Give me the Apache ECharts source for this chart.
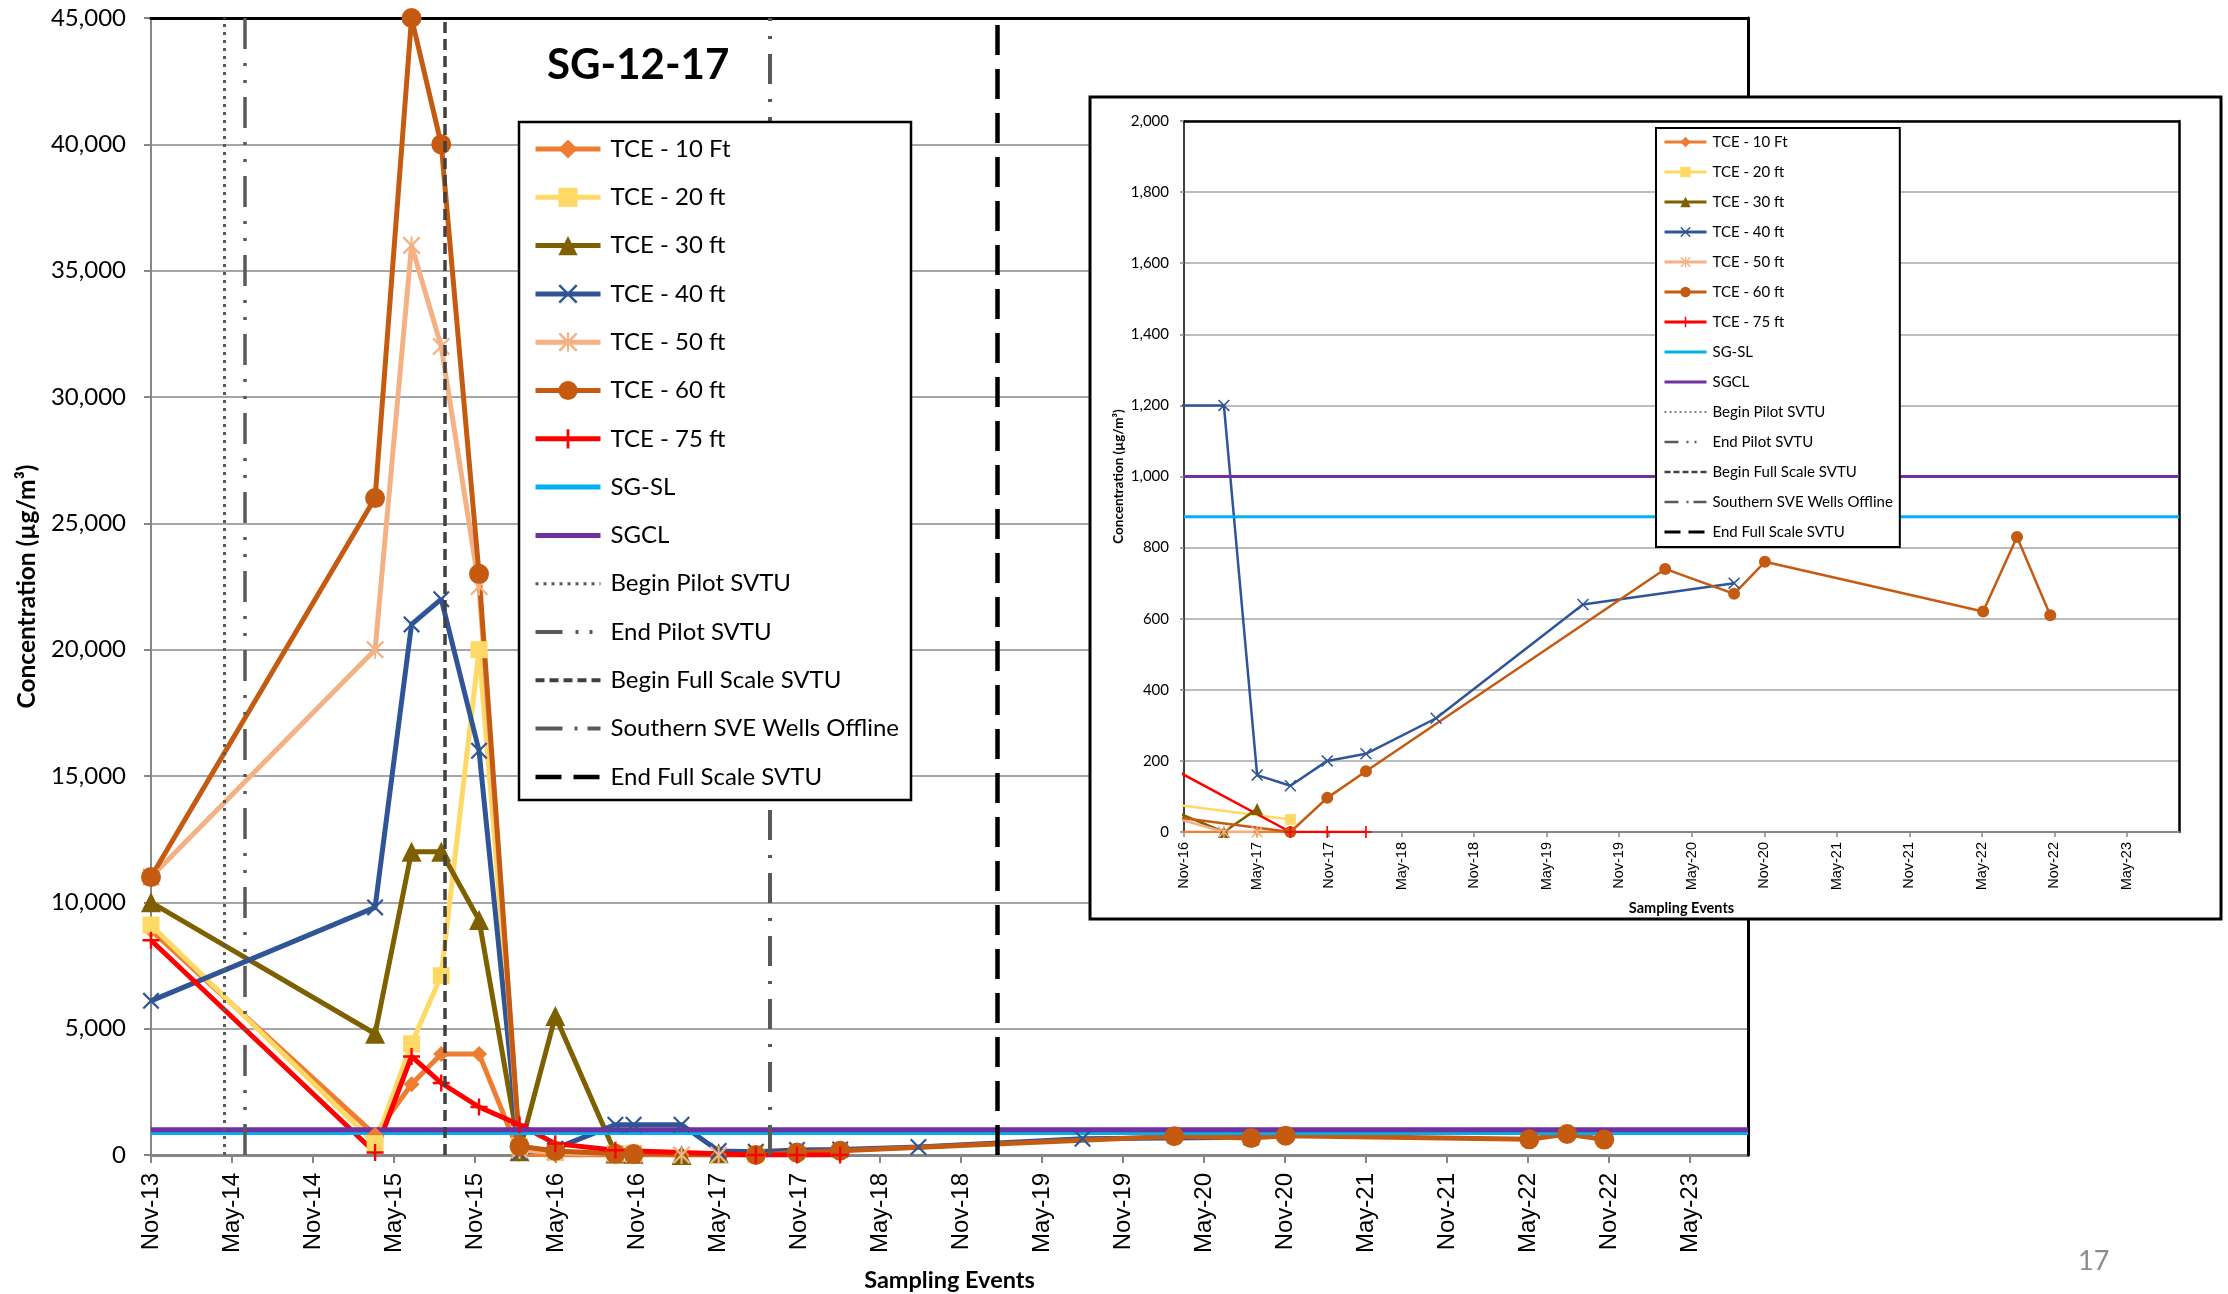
<!DOCTYPE html>
<html>
<head>
<meta charset="utf-8">
<script src="https://cdn.jsdelivr.net/npm/echarts@6/dist/echarts.min.js"></script>
<style>
html,body{margin:0;padding:0;background:#ffffff;}
#chart{width:2228px;height:1294px;}
</style>
</head>
<body>
<div id="chart"></div>
<script>
// ---------------- DATA ----------------
// Sampling events, expressed as months after Nov-2013
const SAMPLE_MONTHS = [0, 16.6, 19.3, 21.5, 24.3, 27.3, 29.95, 34.4, 35.75, 39.3, 42.05, 44.8, 47.85, 51.05, 56.85, 69.0, 75.8, 81.5, 84.05, 102.1, 104.9, 107.65];

const TCE_10 = [8900, 800, 2800, 4000, 4000, 50, 0, 0, 0, 0, 0, 0, null, null, null, null, null, null, null, null, null, null];
const TCE_20 = [9100, 450, 4400, 7100, 20000, 350, 100, 50, 75, null, null, 35, null, null, null, null, null, null, null, null, null, null];
const TCE_30 = [10000, 4800, 12000, 12000, 9300, 150, 5500, 60, 50, 0, 65, null, null, null, null, null, null, null, null, null, null, null];
const TCE_40 = [6100, 9800, 21000, 22000, 16000, 100, 250, 1200, 1200, 1200, 160, 130, 200, 220, 320, 640, null, 700, null, null, null, null];
const TCE_50 = [11000, 20000, 36000, 32000, 22500, 200, 100, 50, 35, 0, 0, null, null, null, null, null, null, null, null, null, null, null];
const TCE_60 = [11000, 26000, 45000, 40000, 23000, 350, 160, 50, 40, null, null, 0, 96, 171, null, null, 740, 670, 760, 620, 830, 610];
const TCE_75 = [8500, 100, 3900, 2850, 1900, 1200, 450, 190, null, null, null, 0, 0, 0, null, null, null, null, null, null, null, null];

const SG_SL = 887;     // screening level
const SGCL = 1000;     // cleanup level

const SERIES_NAMES = ['TCE - 10 Ft', 'TCE - 20 ft', 'TCE - 30 ft', 'TCE - 40 ft', 'TCE - 50 ft', 'TCE - 60 ft', 'TCE - 75 ft'];
const SERIES_VALUES = [TCE_10, TCE_20, TCE_30, TCE_40, TCE_50, TCE_60, TCE_75];

const EVENT_NAMES = ['Begin Pilot SVTU', 'End Pilot SVTU', 'Begin Full Scale SVTU', 'Southern SVE Wells Offline', 'End Full Scale SVTU'];
const EVENT_MONTHS = [5.43, 6.93, 21.77, 45.8, 62.7];

const TICK_LABELS = ['Nov-13','May-14','Nov-14','May-15','Nov-15','May-16','Nov-16','May-17','Nov-17','May-18','Nov-18','May-19','Nov-19','May-20','Nov-20','May-21','Nov-21','May-22','Nov-22','May-23'];
const TICK_STEP = 6;          // months between tick labels
const MONTH_MAX = 118.3;      // axis end (months after Nov-13)
const INSET_MONTH_MIN = 36;   // inset starts at Nov-16
const MAIN_Y_MAX = 45000, MAIN_Y_STEP = 5000;
const INSET_Y_MAX = 2000, INSET_Y_STEP = 200;

// ---------------- STYLES ----------------
const X_CROSS = 'path://M0,0.9L0.9,0L5,4.1L9.1,0L10,0.9L5.9,5L10,9.1L9.1,10L5,5.9L0.9,10L0,9.1L4.1,5Z';
const ASTER = 'path://M0,0.9L0.9,0L5,4.1L9.1,0L10,0.9L5.9,5L10,9.1L9.1,10L5,5.9L0.9,10L0,9.1L4.1,5Z M4.45,0L5.55,0L5.55,10L4.45,10Z';
const PLUS = 'path://M4.3,0L5.7,0L5.7,4.3L10,4.3L10,5.7L5.7,5.7L5.7,10L4.3,10L4.3,5.7L0,5.7L0,4.3L4.3,4.3Z';

const SERIES_STYLE = [
  {color:'#ED7D31', symbol:'diamond',  main:16, inset:8},
  {color:'#FFD966', symbol:'rect',     main:17, inset:11},
  {color:'#7F6000', symbol:'triangle', main:20, inset:12},
  {color:'#2F5597', symbol:X_CROSS,    main:17, inset:12},
  {color:'#F4B183', symbol:ASTER,      main:18, inset:12},
  {color:'#C55A11', symbol:'circle',   main:20, inset:12},
  {color:'#FF0000', symbol:PLUS,       main:17, inset:12}
];
const SG_SL_COLOR = '#00B0F0', SGCL_COLOR = '#7030A0';

const EVENT_STYLE_MAIN = [
  {color:'#595959', width:3,   type:[3,5]},
  {color:'#595959', width:3.5, type:[31,14,3,14,3,14]},
  {color:'#404040', width:3.5, type:[11,6]},
  {color:'#595959', width:4,   type:[30,15,3,15]},
  {color:'#000000', width:4.5, type:[30,14]}
];
const EVENT_STYLE_INSET = [
  {color:'#595959', width:2,   type:[2,4]},
  {color:'#595959', width:2.5, type:[20,9,2,9,2,9]},
  {color:'#404040', width:2.5, type:[8,4]},
  {color:'#595959', width:2.5, type:[20,9,2,9]},
  {color:'#000000', width:3,   type:[20,8]}
];
const EVENT_LEGEND_MAIN = [
  {width:3, type:[3,5]},
  {width:4, type:[27,13,3,11,3,12]},
  {width:4, type:[9,5]},
  {width:4, type:[27,12,3,10]},
  {width:4.5, type:[26,12]}
];
const EVENT_LEGEND_INSET = [
  {width:1.5, type:[2,3]},
  {width:2.5, type:[14,8,2,6,2,10]},
  {width:2.5, type:[6,3]},
  {width:2.5, type:[14,8,2,5]},
  {width:3, type:[16,8]}
];

const FONT = 'Lato';
const AXIS_FONT = 'Liberation Sans';

// ---------------- BUILD ----------------
const fmtThousands = v => Math.round(v).toLocaleString('en-US');
const tickLabel = v => TICK_LABELS[Math.round(v / TICK_STEP)] || '';
const tickValues = TICK_LABELS.map((_, i) => i * TICK_STEP);
const mainTicks = tickValues;
const insetTicks = tickValues.filter(v => v >= INSET_MONTH_MIN);

function pairs(values) {
  const out = [];
  values.forEach((v, i) => { if (v !== null && v !== undefined) out.push([SAMPLE_MONTHS[i], v]); });
  return out;
}

function tceSeries(idx, inset) {
  const st = SERIES_STYLE[idx];
  return {
    name: SERIES_NAMES[idx], type:'line',
    xAxisIndex: inset ? 2 : 0, yAxisIndex: inset ? 2 : 0,
    data: pairs(SERIES_VALUES[idx]),
    color: st.color,
    symbol: st.symbol, symbolSize: inset ? st.inset : st.main,
    showSymbol: true, showAllSymbol: true,
    lineStyle: {color: st.color, width: inset ? 2.5 : 5},
    itemStyle: {color: st.color},
    clip: true, animation: false, silent: true,
    zlevel: inset ? 1 : 0, z: 2
  };
}

function levelSeries(name, value, color, inset) {
  const xmin = inset ? INSET_MONTH_MIN : 0;
  return {
    name: name, type:'line',
    xAxisIndex: inset ? 2 : 0, yAxisIndex: inset ? 2 : 0,
    data: [[xmin, value], [MONTH_MAX, value]],
    color: color, symbol:'none',
    lineStyle: {color: color, width: inset ? 3 : 5},
    itemStyle: {color: color},
    animation: false, silent: true,
    zlevel: inset ? 1 : 0, z: 2
  };
}

function eventSeries(i, inset) {
  const st = inset ? EVENT_STYLE_INSET[i] : EVENT_STYLE_MAIN[i];
  const xmin = inset ? INSET_MONTH_MIN : 0;
  const inRange = EVENT_MONTHS[i] >= xmin && EVENT_MONTHS[i] <= MONTH_MAX;
  return {
    name: EVENT_NAMES[i], type:'line',
    xAxisIndex: inset ? 2 : 0, yAxisIndex: inset ? 2 : 0,
    data: [],
    color: st.color, symbol:'none',
    lineStyle: {color: st.color, width: st.width, type: st.type},
    itemStyle: {color: st.color},
    markLine: {
      silent: true, symbol: ['none','none'], animation: false,
      label: {show:false},
      lineStyle: {color: st.color, width: st.width, type: st.type, opacity: 1},
      emphasis: {disabled: true},
      data: inRange ? [{xAxis: EVENT_MONTHS[i]}] : []
    },
    animation: false, silent: true,
    zlevel: inset ? 1 : 0, z: 3
  };
}

function legendData(inset) {
  const d = [];
  SERIES_NAMES.forEach(n => d.push({name:n}));
  d.push({name:'SG-SL', itemStyle:{opacity:0}});
  d.push({name:'SGCL', itemStyle:{opacity:0}});
  EVENT_NAMES.forEach((n, i) => {
    const ls = inset ? EVENT_LEGEND_INSET[i] : EVENT_LEGEND_MAIN[i];
    d.push({name:n, itemStyle:{opacity:0}, lineStyle:{width: ls.width, type: ls.type}});
  });
  return d;
}

const series = [];
[false, true].forEach(inset => {
  SERIES_NAMES.forEach((_, i) => series.push(tceSeries(i, inset)));
  series.push(levelSeries('SG-SL', SG_SL, SG_SL_COLOR, inset));
  series.push(levelSeries('SGCL', SGCL, SGCL_COLOR, inset));
  EVENT_NAMES.forEach((_, i) => series.push(eventSeries(i, inset)));
});

function borderAxis(gridIndex, position, min, max, zl) {
  return {
    gridIndex, type:'value', position, min, max,
    axisLine:{show:true, onZero:false, lineStyle:{color:'#000', width: zl ? 2.5 : 3}},
    axisTick:{show:false}, axisLabel:{show:false}, splitLine:{show:false},
    zlevel: zl, z: 1, silent: true
  };
}

const option = {
  animation: false,
  backgroundColor: '#ffffff',
  textStyle: {fontFamily: FONT},
  grid: [
    {left:151, right:480, top:18, bottom:139, containLabel:false, outerBoundsMode:'none'},
    {left:1184, right:49, top:121, bottom:462, containLabel:false, outerBoundsMode:'none', zlevel:1}
  ],
  xAxis: [
    {
      gridIndex:0, type:'value', min:0, max:MONTH_MAX, position:'bottom',
      axisLine:{show:true, onZero:false, lineStyle:{color:'#868686', width:3}},
      axisTick:{show:true, length:8, customValues: mainTicks, lineStyle:{color:'#868686', width:2}},
      axisLabel:{customValues: mainTicks, formatter: tickLabel, rotate:90, margin:18,
                 fontSize:24, fontFamily: AXIS_FONT, color:'#000'},
      splitLine:{show:false},
      name:'Sampling Events', nameLocation:'middle', nameGap:113,
      nameTextStyle:{fontFamily:FONT, fontWeight:'bold', fontSize:23.5, color:'#000'}
    },
    borderAxis(0, 'top', 0, MONTH_MAX, 0),
    {
      gridIndex:1, type:'value', min:INSET_MONTH_MIN, max:MONTH_MAX, position:'bottom',
      axisLine:{show:true, onZero:false, lineStyle:{color:'#868686', width:2}},
      axisTick:{show:true, length:5, customValues: insetTicks, lineStyle:{color:'#868686', width:1.5}},
      axisLabel:{customValues: insetTicks, formatter: tickLabel, rotate:90, margin:10,
                 fontSize:14.5, fontFamily: AXIS_FONT, color:'#000'},
      splitLine:{show:false},
      name:'Sampling Events', nameLocation:'middle', nameGap:69,
      nameTextStyle:{fontFamily:FONT, fontWeight:'bold', fontSize:14.5, color:'#000'},
      zlevel:1, z:1
    },
    borderAxis(1, 'top', INSET_MONTH_MIN, MONTH_MAX, 1)
  ],
  yAxis: [
    {
      gridIndex:0, type:'value', min:0, max:MAIN_Y_MAX, interval:MAIN_Y_STEP,
      axisLine:{show:true, lineStyle:{color:'#868686', width:2}},
      axisTick:{show:true, length:7, lineStyle:{color:'#868686', width:2}},
      axisLabel:{formatter: fmtThousands, fontSize:24, margin:25, color:'#000', fontFamily:FONT},
      splitLine:{show:true, lineStyle:{color:'#A6A6A6', width:2}},
      name:'Concentration (µg/m³)', nameLocation:'middle', nameGap:107,
      nameTextStyle:{fontFamily:FONT, fontWeight:'bold', fontSize:24.5, color:'#000'}
    },
    borderAxis(0, 'right', 0, MAIN_Y_MAX, 0),
    {
      gridIndex:1, type:'value', min:0, max:INSET_Y_MAX, interval:INSET_Y_STEP,
      axisLine:{show:true, lineStyle:{color:'#404040', width:2}},
      axisTick:{show:true, length:4, lineStyle:{color:'#868686', width:1.5}},
      axisLabel:{formatter: fmtThousands, fontSize:15, margin:15, color:'#000', fontFamily:FONT},
      splitLine:{show:true, lineStyle:{color:'#A6A6A6', width:1.5}},
      name:'Concentration (µg/m³)', nameLocation:'middle', nameGap:58,
      nameTextStyle:{fontFamily:FONT, fontWeight:'bold', fontSize:13.5, color:'#000'},
      zlevel:1, z:1
    },
    borderAxis(1, 'right', 0, INSET_Y_MAX, 1)
  ],
  legend: [
    {
      orient:'vertical', left:519, top:122,
      padding:[13,12,9,14],
      backgroundColor:'#ffffff', borderColor:'#000000', borderWidth:2.5,
      itemWidth:65, itemHeight:24, itemGap:20.3,
      selectedMode:false,
      lineStyle:{width:5},
      textStyle:{fontFamily:FONT, fontSize:24, lineHeight:28, color:'#000', padding:[0,0,0,5]},
      data: legendData(false), zlevel:0, z:10
    },
    {
      orient:'vertical', left:1656, top:128,
      padding:[5,7,6,7],
      backgroundColor:'#ffffff', borderColor:'#000000', borderWidth:2,
      itemWidth:42, itemHeight:13, itemGap:12,
      selectedMode:false,
      lineStyle:{width:3},
      textStyle:{fontFamily:FONT, fontSize:15, lineHeight:18, color:'#000', padding:[0,0,0,1]},
      data: legendData(true), zlevel:1, z:10
    }
  ],
  graphic: [
    {type:'text', left:547, top:44, zlevel:0, z:20, silent:true,
     style:{text:'SG-12-17', fontFamily:FONT, fontWeight:'bold', fontSize:42, fill:'#000'}},
    {type:'text', left:2078, top:1248, silent:true,
     style:{text:'17', fontFamily:FONT, fontSize:27, fill:'#8C8C8C'}},
    {type:'rect', zlevel:1, z:0, silent:true,
     shape:{x:1090, y:97, width:1131, height:822},
     style:{fill:'#ffffff', stroke:'#000000', lineWidth:3}}
  ],
  series: series
};

const chart = echarts.init(document.getElementById('chart'), null, {renderer:'canvas'});
chart.setOption(option);
</script>
</body>
</html>
